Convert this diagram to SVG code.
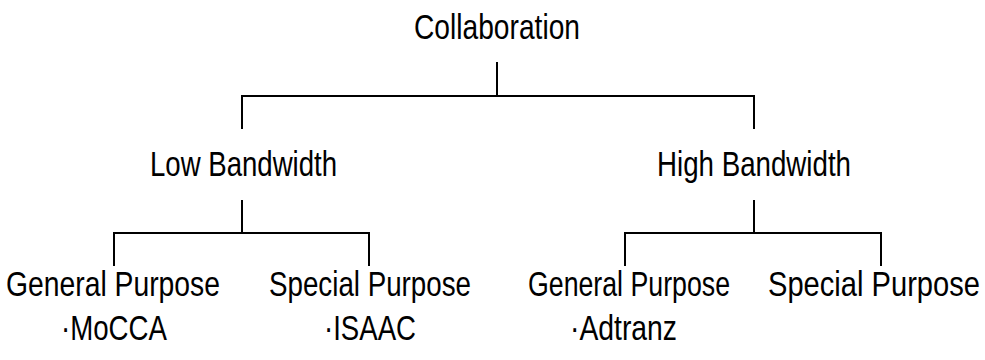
<svg xmlns="http://www.w3.org/2000/svg" width="985" height="360" viewBox="0 0 985 360">
  <style>
    text { font-family: "Liberation Sans", Arial, sans-serif; font-size: 36px; fill: #000; }
    .link { fill: none; stroke: #000; stroke-width: 2; }
  </style>
  <rect width="985" height="360" fill="#fff"/>

  <g id="connectors">
    <!-- root to bandwidth level -->
    <path class="link" d="M497 62 V96 M242 129 V96 H754 V129"/>
    <!-- low bandwidth branch -->
    <path class="link" d="M242 200 V233 M114 266 V233 H369 V266"/>
    <!-- high bandwidth branch -->
    <path class="link" d="M754 200 V233 M625 266 V233 H881 V266"/>
  </g>

  <!-- labels are set in a narrowed face: horizontal scale 0.8 -->
  <g id="collaboration">
    <text transform="translate(414 39) scale(0.8 1)" textLength="207.5" lengthAdjust="spacingAndGlyphs">Collaboration</text>
  </g>
  <g id="low-bandwidth">
    <text transform="translate(150 176) scale(0.8 1)" textLength="233.75" lengthAdjust="spacingAndGlyphs">Low Bandwidth</text>
  </g>
  <g id="high-bandwidth">
    <text transform="translate(657 176) scale(0.8 1)" textLength="242.5" lengthAdjust="spacingAndGlyphs">High Bandwidth</text>
  </g>
  <g id="low-general">
    <text transform="translate(6 296) scale(0.8 1)" textLength="267.5" lengthAdjust="spacingAndGlyphs">General Purpose</text>
    <text transform="translate(61 340) scale(0.8 1)" textLength="132.5" lengthAdjust="spacingAndGlyphs">·MoCCA</text>
  </g>
  <g id="low-special">
    <text transform="translate(269 296) scale(0.8 1)" textLength="252.5" lengthAdjust="spacingAndGlyphs">Special Purpose</text>
    <text transform="translate(324 340) scale(0.8 1)" textLength="115" lengthAdjust="spacingAndGlyphs">·ISAAC</text>
  </g>
  <g id="high-general">
    <text transform="translate(528 296) scale(0.8 1)" textLength="252.5" lengthAdjust="spacingAndGlyphs">General Purpose</text>
    <text transform="translate(570 340) scale(0.8 1)" textLength="133.75" lengthAdjust="spacingAndGlyphs">·Adtranz</text>
  </g>
  <g id="high-special">
    <text transform="translate(768 296) scale(0.8 1)" textLength="265" lengthAdjust="spacingAndGlyphs">Special Purpose</text>
  </g>
</svg>
